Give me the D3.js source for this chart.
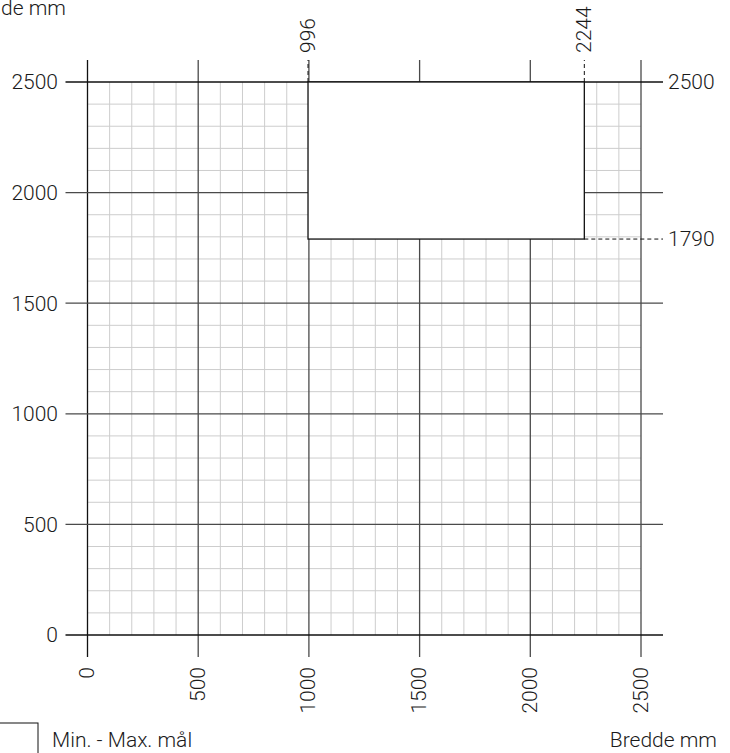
<!DOCTYPE html>
<html>
<head>
<meta charset="utf-8">
<script src="https://cdn.jsdelivr.net/npm/d3@7"></script>
<style>
  html, body { margin: 0; padding: 0; background: #fff; }
  svg text { font-family: Roboto, "DejaVu Sans", sans-serif; font-weight: 300; fill: #1a1a1a; }
</style>
</head>
<body>
<svg id="chart" width="730" height="753"></svg>
<script>
// Measurement range (mm)
const axisMax = 2500;
const majorTicks = [0, 500, 1000, 1500, 2000, 2500];
const minorStep = 100;

// Allowed size window: width and height limits (mm)
const widthRange = [996, 2244];
const heightRange = [1790, 2500];

const xTitle = "Bredde mm";
const yTitle = "Højde mm";
const legendLabel = "Min. - Max. mål";

const fs = 21;
const svg = d3.select("#chart");

const x = d3.scaleLinear().domain([0, axisMax]).range([87.5, 641]);
const y = d3.scaleLinear().domain([0, axisMax]).range([635, 82]);

const overhang = 22;
const minorTicks = d3.range(0, axisMax + 1, minorStep).filter(v => v % 500 !== 0);

// Minor grid
const g = svg.append("g");
g.selectAll("line.vminor").data(minorTicks).join("line")
  .attr("x1", d => x(d)).attr("x2", d => x(d))
  .attr("y1", y(0)).attr("y2", y(axisMax))
  .attr("stroke", "#cdcdcd").attr("stroke-width", 1);
g.selectAll("line.hminor").data(minorTicks).join("line")
  .attr("y1", d => y(d)).attr("y2", d => y(d))
  .attr("x1", x(0)).attr("x2", x(axisMax))
  .attr("stroke", "#cdcdcd").attr("stroke-width", 1);

// Major grid, extended past the plotting area as ticks
g.selectAll("line.vmajor").data(majorTicks).join("line")
  .attr("x1", d => x(d)).attr("x2", d => x(d))
  .attr("y1", y(0) + overhang).attr("y2", y(axisMax) - overhang)
  .attr("stroke", d => (d === 0 ? "#111" : "#4a4a4a")).attr("stroke-width", 1.3);
g.selectAll("line.hmajor").data(majorTicks).join("line")
  .attr("y1", d => y(d)).attr("y2", d => y(d))
  .attr("x1", x(0) - overhang).attr("x2", x(axisMax) + overhang)
  .attr("stroke", d => (d === 0 || d === axisMax ? "#111" : "#4a4a4a")).attr("stroke-width", 1.3);

// Tick labels
svg.append("g").selectAll("text").data(majorTicks).join("text")
  .attr("x", 58).attr("y", d => y(d)).attr("dy", "0.35em")
  .attr("text-anchor", "end").attr("font-size", fs).text(d => d);
svg.append("g").selectAll("text").data(majorTicks).join("text")
  .attr("transform", d => `translate(${x(d) + 6.5},${y(0) + 32}) rotate(-90)`)
  .attr("text-anchor", "end").attr("font-size", fs).text(d => d);

// Size window
svg.append("rect")
  .attr("x", x(widthRange[0])).attr("y", y(heightRange[1]))
  .attr("width", x(widthRange[1]) - x(widthRange[0]))
  .attr("height", y(heightRange[0]) - y(heightRange[1]))
  .attr("fill", "#fff").attr("stroke", "#111").attr("stroke-width", 1.3);

// Dimension guides for the window edges
const dash = "4,3";
widthRange.forEach(w => {
  svg.append("line")
    .attr("x1", x(w)).attr("x2", x(w))
    .attr("y1", y(axisMax)).attr("y2", y(axisMax) - overhang)
    .attr("stroke", "#111").attr("stroke-width", 1).attr("stroke-dasharray", dash);
  svg.append("text")
    .attr("transform", `translate(${x(w) + 7},${y(axisMax) - 29}) rotate(-90)`)
    .attr("text-anchor", "start").attr("font-size", fs).text(w);
});
svg.append("line")
  .attr("x1", x(widthRange[1])).attr("x2", x(axisMax) + overhang)
  .attr("y1", y(heightRange[0])).attr("y2", y(heightRange[0]))
  .attr("stroke", "#111").attr("stroke-width", 1).attr("stroke-dasharray", dash);
[heightRange[1], heightRange[0]].forEach(h => {
  svg.append("text")
    .attr("x", x(axisMax) + overhang + 5).attr("y", y(h)).attr("dy", "0.35em")
    .attr("text-anchor", "start").attr("font-size", fs).text(h);
});

// Axis titles
svg.append("text").attr("x", 66).attr("y", 15)
  .attr("text-anchor", "end").attr("font-size", fs).text(yTitle);
svg.append("text").attr("x", 717).attr("y", 747)
  .attr("text-anchor", "end").attr("font-size", fs).text(xTitle);

// Legend
svg.append("rect").attr("x", -10).attr("y", 723).attr("width", 48).attr("height", 40)
  .attr("fill", "#fff").attr("stroke", "#111").attr("stroke-width", 1);
svg.append("text").attr("x", 52).attr("y", 747)
  .attr("font-size", fs).text(legendLabel);
</script>
</body>
</html>
